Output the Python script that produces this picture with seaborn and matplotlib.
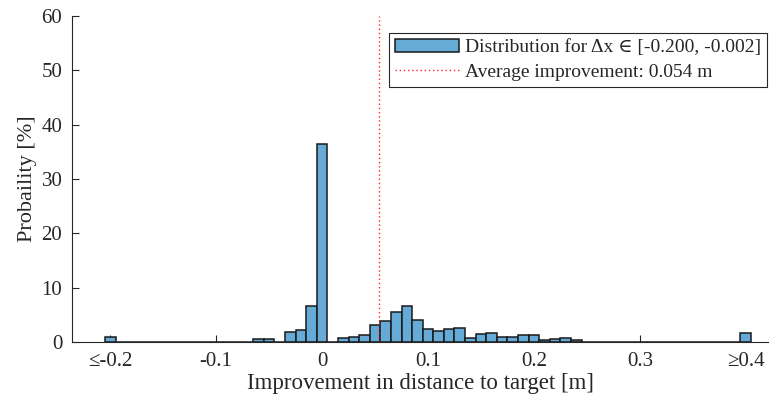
import numpy as np
import pandas as pd
import matplotlib
matplotlib.use("Agg")
import matplotlib.pyplot as plt
import seaborn as sns

# Data (bin centres in m, probability in %)
bin_centers = [-0.20, -0.06, -0.05, -0.03, -0.02, -0.01, 0.00, 0.02, 0.03, 0.04,
               0.05, 0.06, 0.07, 0.08, 0.09, 0.10, 0.11, 0.12, 0.13, 0.14,
               0.15, 0.16, 0.17, 0.18, 0.19, 0.20, 0.21, 0.22, 0.23, 0.24, 0.40]
probability = [1.0, 0.5, 0.5, 1.8, 2.2, 6.7, 36.5, 0.7, 1.0, 1.2,
               3.1, 3.8, 5.5, 6.7, 4.0, 2.4, 2.1, 2.4, 2.6, 0.7,
               1.5, 1.7, 1.0, 0.9, 1.2, 1.2, 0.3, 0.55, 0.8, 0.3, 1.7]
bin_width = 0.01
avg_improvement = 0.054
xtick_values = [-0.2, -0.1, 0.0, 0.1, 0.2, 0.3, 0.4]
xtick_labels = ["≤-0.2", "-0.1", "0", "0.1", "0.2", "0.3", "≥0.4"]
ytick_values = [0, 10, 20, 30, 40, 50, 60]
hist_label = "Distribution for Δx ∈ [-0.200, -0.002]"
line_label = "Average improvement: 0.054 m"

sns.set_theme(style="ticks")
plt.rcParams["font.family"] = ["Liberation Serif", "DejaVu Serif"]
text_color = "#262626"
plt.rcParams.update({
    "axes.edgecolor": text_color,
    "xtick.color": text_color,
    "ytick.color": text_color,
    "axes.labelcolor": text_color,
    "text.color": text_color,
})

df = pd.DataFrame({"x": bin_centers, "p": probability})

fig = plt.figure(figsize=(7.75, 4.11), dpi=100)
ax = fig.add_axes([0.093, 0.168, 0.898, 0.793])

sns.histplot(data=df, x="x", weights="p", binwidth=bin_width,
             binrange=(-0.205, 0.405), stat="count",
             color="#66AAD7", alpha=1.0, edgecolor="#1a1a1a", linewidth=1.1,
             ax=ax, label=hist_label)
ax.axvline(avg_improvement, color="#ff0000", linestyle=(0, (1.0, 2.0)),
           linewidth=1.0, alpha=0.85, label=line_label)

ax.set_xlim(-0.236, 0.421)
ax.set_ylim(0, 60)
ax.set_xticks(xtick_values)
ax.set_xticklabels(xtick_labels)
ax.set_yticks(ytick_values)
ax.tick_params(direction="in", length=5, width=0.8, labelsize=15, pad=7)
ax.set_xlabel("Improvement in distance to target [m]", fontsize=16.5, labelpad=2)
ax.set_ylabel("Probaility [%]", fontsize=16, labelpad=3)
for s in ["top", "right"]:
    ax.spines[s].set_visible(False)
for s in ["left", "bottom"]:
    ax.spines[s].set_linewidth(0.8)

handles, labels = ax.get_legend_handles_labels()
order = [labels.index(hist_label), labels.index(line_label)]
leg = ax.legend([handles[i] for i in order], [labels[i] for i in order],
                loc="upper right", fontsize=14, frameon=True, fancybox=False,
                edgecolor=text_color, framealpha=1, borderpad=0.3,
                handlelength=3.3, labelspacing=0.35, handletextpad=0.3,
                borderaxespad=0.0, bbox_to_anchor=(0.998, 0.948))
leg.get_frame().set_linewidth(0.8)

fig.savefig("out.png", dpi=100)
